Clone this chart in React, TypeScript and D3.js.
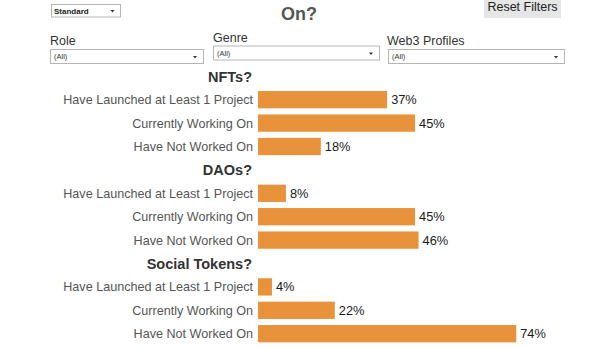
import React from "react";
import * as d3 from "d3";

const sections = ["NFTs?", "DAOs?", "Social Tokens?"];
const statuses = ["Have Launched at Least 1 Project", "Currently Working On", "Have Not Worked On"];
const nftValues = [37, 45, 18];
const daoValues = [8, 45, 46];
const socialValues = [4, 22, 74];
const titleText = "On?";
const filterLabels = ["Role", "Genre", "Web3 Profiles"];
const filterValues = ["(All)", "(All)", "(All)"];

const W = 600;
const H = 349;
const FONT = "'Liberation Sans', Arial, sans-serif";
const BAR = "#E8923B";

export default function App() {
  const allValues = [nftValues, daoValues, socialValues];
  const rows: { key: string; type: "header" | "bar"; label: string; value?: number }[] = [];
  sections.forEach((s, si) => {
    rows.push({ key: `h${si}`, type: "header", label: s });
    statuses.forEach((st, ri) => {
      rows.push({ key: `r${si}-${ri}`, type: "bar", label: st, value: allValues[si][ri] });
    });
  });

  const y = d3
    .scaleBand<string>()
    .domain(rows.map((r) => r.key))
    .range([64.6, 345.4])
    .paddingInner(0.26)
    .paddingOuter(0.13);
  const x = d3.scaleLinear().domain([0, 100]).range([258, 607]);

  const filters = [
    { label: filterLabels[0], value: filterValues[0], lx: 50, ly: 45, bx: 50, by: 49, bw: 153, bh: 14 },
    { label: filterLabels[1], value: filterValues[1], lx: 213, ly: 42, bx: 213, by: 45.5, bw: 166, bh: 14 },
    { label: filterLabels[2], value: filterValues[2], lx: 387, ly: 45, bx: 388, by: 49, bw: 176, bh: 14 },
  ];

  return (
    <svg
      width={W}
      height={H}
      style={{ position: "absolute", left: 0, top: 0, background: "#fff" }}
      fontFamily={FONT}
    >
      {/* Standard dropdown */}
      <rect x={51.5} y={4.5} width={69} height={12.5} fill="#fff" stroke="#b5b5b5" />
      <text x={54} y={13.8} fontSize={8} fontWeight="bold" fill="#222">Standard</text>
      <path d="M110.5,10 L114.5,10 L112.5,12.5 Z" fill="#333" />

      {/* Title (second line) */}
      <text x={299} y={20} fontSize={18} fontWeight="bold" fill="#555" textAnchor="middle">
        {titleText}
      </text>

      {/* Reset Filters button */}
      <rect x={484} y={-2} width={77} height={20} fill="#e6e6e6" />
      <text x={522.5} y={11} fontSize={12.5} fill="#222" textAnchor="middle">Reset Filters</text>

      {/* Filter dropdowns */}
      {filters.map((f, i) => (
        <g key={i}>
          <text x={f.lx} y={f.ly} fontSize={12.5} fill="#333">{f.label}</text>
          <rect x={f.bx + 0.5} y={f.by + 0.5} width={f.bw} height={f.bh} fill="#fff" stroke="#b5b5b5" />
          <text x={f.bx + 4} y={f.by + 10} fontSize={7.5} fill="#333">{f.value}</text>
          <path
            d={`M${f.bx + f.bw - 10},${f.by + 7} L${f.bx + f.bw - 6},${f.by + 7} L${f.bx + f.bw - 8},${f.by + 9.5} Z`}
            fill="#333"
          />
        </g>
      ))}

      {/* Chart rows */}
      {rows.map((r) => {
        const yy = y(r.key)!;
        const bw = y.bandwidth();
        const cy = yy + bw / 2;
        if (r.type === "header") {
          return (
            <text key={r.key} x={252} y={cy + 5.5} fontSize={14.5} fontWeight="bold" fill="#333" textAnchor="end">
              {r.label}
            </text>
          );
        }
        const v = r.value as number;
        return (
          <g key={r.key}>
            <text x={253} y={cy + 4.5} fontSize={12.6} fill="#555" textAnchor="end">
              {r.label}
            </text>
            <rect x={x(0)} y={yy} width={x(v) - x(0)} height={bw} fill={BAR} />
            <text x={x(v) + 4} y={cy + 4.5} fontSize={12.8} fill="#1a1a1a">
              {`${v}%`}
            </text>
          </g>
        );
      })}
    </svg>
  );
}
